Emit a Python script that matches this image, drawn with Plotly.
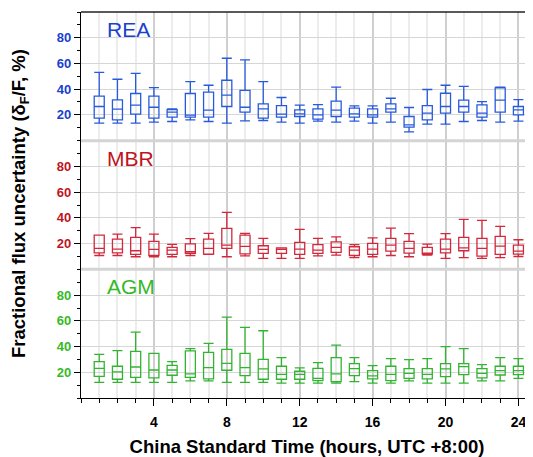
import plotly.graph_objects as go

hours = list(range(1, 25))

# REA
rea_upper = [53.1, 47.7, 52.3, 41.2, 24.7, 45.9, 43.0, 64.0, 62.7, 45.9, 33.5, 27.5,
             28.0, 41.5, 27.0, 27.0, 32.9, 25.7, 39.7, 43.0, 42.2, 30.3, 41.5, 31.9]
rea_q3 = [34.5, 31.6, 36.6, 34.5, 24.1, 36.6, 37.6, 46.9, 39.1, 28.5, 27.2, 23.9,
          24.7, 30.6, 25.2, 24.7, 28.5, 18.7, 27.2, 36.8, 31.4, 27.8, 41.0, 26.5]
rea_med = [26.5, 24.4, 27.5, 25.9, 22.1, 19.7, 23.6, 35.3, 25.9, 24.7, 20.5, 20.8,
           20.0, 23.6, 20.8, 20.0, 24.7, 12.2, 21.3, 26.5, 26.5, 21.3, 31.4, 23.9]
rea_q1 = [17.4, 16.1, 20.5, 17.4, 18.2, 18.2, 18.2, 26.5, 22.1, 17.4, 18.2, 18.7,
          16.6, 18.7, 18.2, 18.2, 22.1, 10.4, 16.1, 21.3, 22.1, 18.2, 22.1, 20.0]
rea_lower = [13.5, 13.5, 13.5, 14.3, 14.8, 16.1, 14.8, 13.5, 15.3, 15.6, 14.3, 13.5,
             15.1, 14.3, 15.1, 13.5, 14.3, 6.8, 12.8, 12.8, 14.8, 15.6, 14.3, 15.1]

# MBR
mbr_upper = [26.5, 27.3, 32.3, 27.3, 19.2, 23.7, 27.8, 44.3, 27.8, 23.9, 16.6, 31.0,
             23.9, 25.2, 19.0, 24.4, 32.0, 27.6, 19.5, 27.6, 38.8, 38.0, 33.3, 22.9]
mbr_q3 = [26.5, 23.4, 24.7, 21.6, 16.9, 19.7, 23.4, 31.7, 26.5, 18.2, 16.6, 20.8,
          19.0, 21.3, 17.4, 20.0, 23.9, 21.6, 16.9, 23.4, 24.7, 23.9, 25.5, 18.7]
mbr_med = [16.1, 15.6, 14.3, 15.3, 14.8, 13.5, 16.1, 18.7, 17.7, 15.3, 15.3, 15.6,
           14.8, 16.9, 14.8, 15.6, 18.7, 16.1, 12.4, 15.6, 16.6, 16.1, 17.9, 14.0]
mbr_q1 = [12.7, 12.7, 11.4, 10.6, 11.4, 12.2, 11.6, 16.1, 11.9, 12.2, 12.2, 11.4,
          12.2, 13.0, 10.6, 11.4, 14.0, 12.4, 11.6, 12.7, 14.3, 10.1, 11.4, 11.6]
mbr_lower = [10.6, 10.6, 9.6, 9.6, 9.6, 10.6, 11.4, 9.6, 10.3, 8.3, 8.3, 8.3,
             10.3, 10.9, 9.0, 9.6, 10.6, 9.6, 10.9, 8.3, 9.0, 8.3, 9.0, 9.8]

# AGM
agm_upper = [34.0, 36.8, 51.3, 34.7, 28.3, 38.4, 42.5, 62.9, 54.9, 52.3, 31.4, 23.4,
             27.5, 41.2, 31.4, 25.2, 30.6, 29.8, 30.6, 39.9, 38.4, 25.9, 31.4, 30.6]
agm_q3 = [28.3, 24.7, 36.3, 34.7, 25.4, 36.6, 35.5, 37.8, 34.7, 30.1, 24.7, 20.8,
          23.1, 31.4, 26.7, 21.3, 24.7, 22.8, 22.8, 26.7, 26.7, 22.8, 24.7, 24.7]
agm_med = [23.1, 20.3, 24.1, 21.8, 21.8, 18.7, 23.6, 27.0, 23.6, 22.6, 18.4, 18.4,
           15.3, 18.7, 22.8, 17.2, 18.4, 19.2, 18.4, 22.6, 24.4, 19.2, 21.3, 21.3]
agm_q1 = [16.9, 14.6, 16.1, 15.6, 17.7, 16.1, 14.8, 21.6, 17.4, 14.6, 14.6, 14.6,
          13.5, 12.8, 17.4, 14.8, 13.5, 15.3, 14.8, 16.6, 18.2, 15.6, 17.9, 18.2]
agm_lower = [12.2, 12.2, 12.2, 12.2, 12.2, 13.3, 13.3, 12.2, 12.2, 12.2, 11.5, 11.5,
             11.5, 11.5, 12.8, 11.5, 11.5, 13.3, 11.5, 11.5, 11.5, 13.3, 13.3, 15.3]

panels = [
    ("REA", "y3", rea_upper, rea_q3, rea_med, rea_q1, rea_lower, "rgb(40,90,220)"),
    ("MBR", "y2", mbr_upper, mbr_q3, mbr_med, mbr_q1, mbr_lower, "rgb(210,40,60)"),
    ("AGM", "y", agm_upper, agm_q3, agm_med, agm_q1, agm_lower, "rgb(50,180,50)"),
]

fig = go.Figure()
for name, yref, up, q3, med, q1, lo, col in panels:
    fig.add_trace(go.Box(
        x=hours, q1=q1, median=med, q3=q3, lowerfence=lo, upperfence=up,
        yaxis=yref, xaxis="x", name=name, boxpoints=False,
        line=dict(color=col, width=1.3), fillcolor="rgba(255,255,255,0)",
        whiskerwidth=1, width=0.55, showlegend=False, hoverinfo="skip",
    ))

fnt = "Liberation Sans, Arial, sans-serif"

def yax(domain, color):
    return dict(
        domain=domain, range=[0, 100], tickvals=[20, 40, 60, 80],
        tickfont=dict(family=fnt, size=13, color=color, weight="bold"),
        showgrid=True, gridcolor="#d6d6d6", gridwidth=1,
        showline=True, linecolor="black", linewidth=1.2,
        ticks="outside", ticklen=6, tickcolor="black", tickwidth=1.2,
        minor=dict(dtick=10, tick0=0, ticks="outside", ticklen=3, tickcolor="black", showgrid=False),
        zeroline=False, anchor="x", fixedrange=True, automargin=False,
    )

# The page body adds an 8px offset; the figure is sized to fill the window from there.
fig.update_layout(
    width=525, height=449,
    margin=dict(l=73, r=0, t=4, b=59),
    plot_bgcolor="white", paper_bgcolor="white",
    xaxis=dict(
        range=[0, 24.8], tickvals=[4, 8, 12, 16, 20, 24],
        tickfont=dict(family=fnt, size=14, color="black", weight="bold"),
        ticklabelstandoff=4,
        showgrid=True, gridcolor="#cfcfcf", gridwidth=1.5,
        minor=dict(dtick=1, tick0=0, showgrid=True, gridcolor="#ececec", gridwidth=1.5,
                   ticks="outside", ticklen=4, tickcolor="black"),
        showline=True, linecolor="black", linewidth=1.2,
        ticks="outside", ticklen=7, tickcolor="black", tickwidth=1.2,
        zeroline=False, anchor="y", automargin=False,
        title=dict(text="China Standard Time (hours, UTC +8:00)",
                   font=dict(family=fnt, size=18.5, color="black", weight="bold"), standoff=13),
    ),
    yaxis=yax([0, 0.333], "rgb(55,185,40)"),
    yaxis2=yax([0.334, 0.666], "rgb(190,20,35)"),
    yaxis3=yax([0.667, 1.0], "rgb(25,65,205)"),
)

# Panel separators and top border
for yp in [1 / 3, 2 / 3]:
    fig.add_shape(type="line", xref="paper", yref="paper", x0=0, x1=1, y0=yp, y1=yp,
                  line=dict(color="#d4d4d4", width=3))
fig.add_shape(type="line", xref="paper", yref="paper", x0=0, x1=1, y0=1, y1=1,
              line=dict(color="#222222", width=1.5))

# Panel labels
for name, yp, col in [("REA", 0.955, "rgb(25,65,205)"), ("MBR", 0.62, "rgb(190,20,35)"),
                      ("AGM", 0.288, "rgb(50,185,40)")]:
    fig.add_annotation(text=name, xref="paper", yref="paper", x=0.054, y=yp,
                       xanchor="left", yanchor="middle", showarrow=False,
                       font=dict(family=fnt, size=21, color=col))

fig.add_annotation(text="Fractional flux uncertainty (δ<sub>F</sub>/F, %)",
                   xref="paper", yref="paper", x=-0.135, y=0.505, textangle=-90,
                   xanchor="center", yanchor="middle", showarrow=False,
                   font=dict(family=fnt, size=18.5, color="black", weight="bold"))

fig.write_html("out.html")
